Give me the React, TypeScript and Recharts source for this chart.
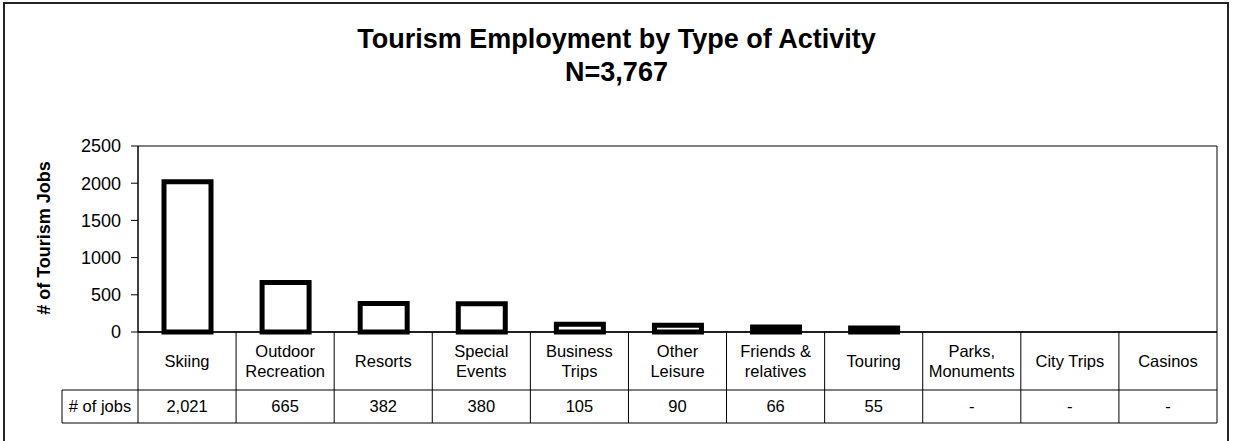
import React from 'react';
import { BarChart, Bar, XAxis, YAxis, ReferenceArea } from 'recharts';

// ---- data ----
const categories = [
  'Skiing',
  'Outdoor\nRecreation',
  'Resorts',
  'Special\nEvents',
  'Business\nTrips',
  'Other\nLeisure',
  'Friends &\nrelatives',
  'Touring',
  'Parks,\nMonuments',
  'City Trips',
  'Casinos',
];
const jobs = [2021, 665, 382, 380, 105, 90, 66, 55, 0, 0, 0];
const yTicks = [0, 500, 1000, 1500, 2000, 2500];
const titleLines = ['Tourism Employment by Type of Activity', 'N=3,767'];
const yLabel = '# of Tourism Jobs';
const rowLabel = '# of jobs';

const data = categories.map((c, i) => ({ category: c, jobs: jobs[i] }));

// ---- layout ----
const W = 1233;
const H = 441;
const PLOT_LEFT = 138;
const PLOT_RIGHT = 1217;
const PLOT_TOP = 146;
const PLOT_BOTTOM = 332;
const ROW_DIV = 390;
const TABLE_BOTTOM = 423;
const ROW_LABEL_LEFT = 62;
const FONT = '"Liberation Sans", Arial, Helvetica, sans-serif';
const LINE = '#000';
const CELL_FONT = 16.5;

const fmt = (v: number) => (v === 0 ? '-' : v.toLocaleString('en-US'));

function CategoryTick(props: any) {
  const { x, payload } = props;
  const half =
    payload && payload.offset ? payload.offset : (PLOT_RIGHT - PLOT_LEFT) / categories.length / 2;
  const idx = categories.indexOf(payload.value);
  const lines = String(payload.value).split('\n');
  const cellMid = (PLOT_BOTTOM + ROW_DIV) / 2;
  const spacing = 20;
  const startY = cellMid - ((lines.length - 1) * spacing) / 2;
  const left = x - half;
  const right = x + half;
  return (
    <g>
      {idx === 0 && (
        <g>
          <line x1={left} y1={PLOT_BOTTOM} x2={left} y2={TABLE_BOTTOM} stroke={LINE} strokeWidth={1} />
          <line x1={ROW_LABEL_LEFT} y1={ROW_DIV} x2={left} y2={ROW_DIV} stroke={LINE} strokeWidth={1} />
          <line x1={ROW_LABEL_LEFT} y1={TABLE_BOTTOM} x2={left} y2={TABLE_BOTTOM} stroke={LINE} strokeWidth={1} />
          <line x1={ROW_LABEL_LEFT} y1={ROW_DIV} x2={ROW_LABEL_LEFT} y2={TABLE_BOTTOM} stroke={LINE} strokeWidth={1} />
          <text
            x={(ROW_LABEL_LEFT + left) / 2}
            y={(ROW_DIV + TABLE_BOTTOM) / 2}
            dy="0.355em"
            textAnchor="middle"
            fontFamily={FONT}
            fontSize={CELL_FONT}
            fill="#000"
          >
            {rowLabel}
          </text>
        </g>
      )}
      <line x1={right} y1={PLOT_BOTTOM} x2={right} y2={TABLE_BOTTOM} stroke={LINE} strokeWidth={1} />
      <line x1={left} y1={ROW_DIV} x2={right} y2={ROW_DIV} stroke={LINE} strokeWidth={1} />
      <line x1={left} y1={TABLE_BOTTOM} x2={right} y2={TABLE_BOTTOM} stroke={LINE} strokeWidth={1} />
      {lines.map((ln, i) => (
        <text
          key={i}
          x={x}
          y={startY + i * spacing}
          dy="0.355em"
          textAnchor="middle"
          fontFamily={FONT}
          fontSize={CELL_FONT}
          fill="#000"
        >
          {ln}
        </text>
      ))}
      <text
        x={x}
        y={(ROW_DIV + TABLE_BOTTOM) / 2}
        dy="0.355em"
        textAnchor="middle"
        fontFamily={FONT}
        fontSize={CELL_FONT}
        fill="#000"
      >
        {idx >= 0 ? fmt(jobs[idx]) : ''}
      </text>
    </g>
  );
}

export default function App() {
  return (
    <div
      style={{
        position: 'absolute',
        left: 0,
        top: 0,
        width: W,
        height: H,
        overflow: 'hidden',
        background: '#fff',
        fontFamily: FONT,
      }}
    >
      <div
        style={{
          position: 'absolute',
          left: 3,
          top: 2,
          width: 1226,
          height: 520,
          border: '2px solid #222',
          boxSizing: 'border-box',
        }}
      />
      <div
        style={{
          position: 'absolute',
          left: 0,
          top: 23,
          width: W,
          textAlign: 'center',
          fontWeight: 'bold',
          fontSize: 27,
          lineHeight: '33px',
          color: '#000',
        }}
      >
        {titleLines.map((t, i) => (
          <div key={i}>{t}</div>
        ))}
      </div>
      <div
        style={{
          position: 'absolute',
          left: 44,
          top: 238,
          transform: 'translate(-50%, -50%) rotate(-90deg)',
          whiteSpace: 'nowrap',
          fontWeight: 'bold',
          fontSize: 18,
          color: '#000',
        }}
      >
        {yLabel}
      </div>
      <div style={{ position: 'absolute', left: 0, top: 0 }}>
        <BarChart
          width={W}
          height={H}
          data={data}
          margin={{ top: PLOT_TOP, right: W - PLOT_RIGHT, left: 0, bottom: 0 }}
          barCategoryGap={0}
        >
          <ReferenceArea y1={0} y2={2500} fill="none" stroke="#000" strokeWidth={1} ifOverflow="visible" />
          <YAxis
            type="number"
            domain={[0, 2500]}
            ticks={yTicks}
            width={PLOT_LEFT}
            tickSize={7}
            tickMargin={10}
            axisLine={{ stroke: '#000' }}
            tickLine={{ stroke: '#000' }}
            tick={{ fill: '#000', fontSize: 18, fontFamily: FONT }}
            interval={0}
          />
          <XAxis
            dataKey="category"
            type="category"
            height={H - PLOT_BOTTOM}
            interval={0}
            tickSize={0}
            tickMargin={0}
            axisLine={{ stroke: '#000', strokeWidth: 1.5 }}
            tickLine={false}
            tick={<CategoryTick />}
          />
          <Bar
            dataKey="jobs"
            fill="#fff"
            stroke="#000"
            strokeWidth={5}
            barSize={47}
            isAnimationActive={false}
          />
        </BarChart>
      </div>
    </div>
  );
}
